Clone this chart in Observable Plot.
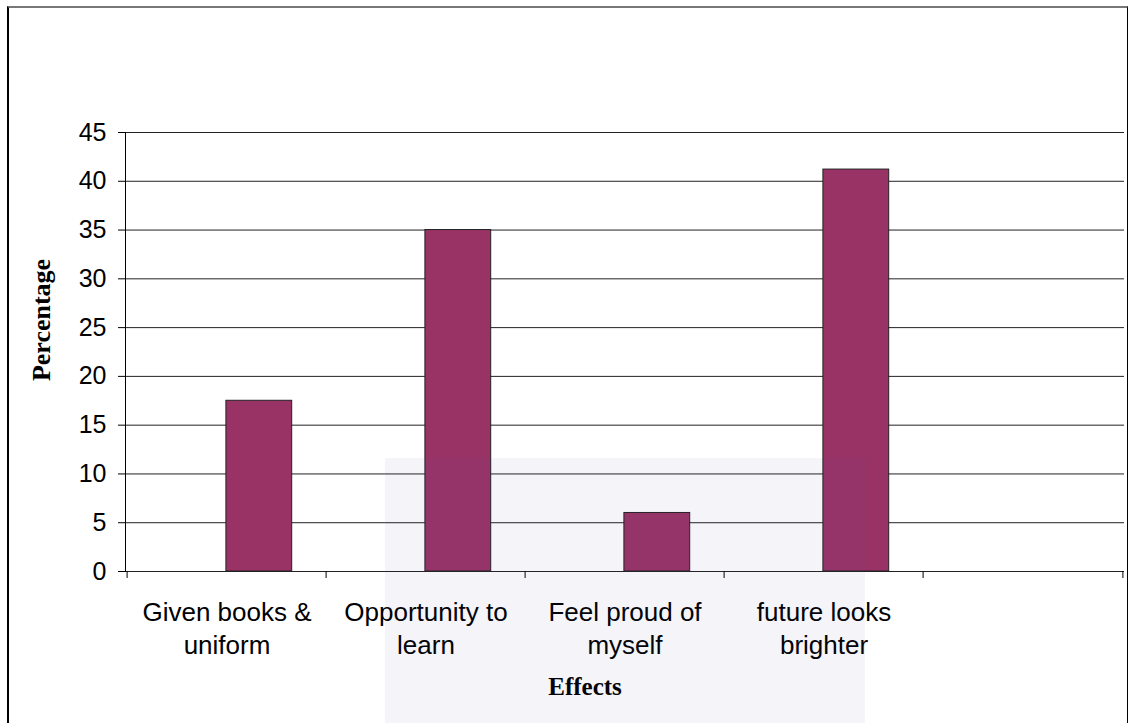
<!DOCTYPE html>
<html>
<head>
<meta charset="utf-8">
<script src="https://cdn.jsdelivr.net/npm/d3@7"></script>
<script src="https://cdn.jsdelivr.net/npm/@observablehq/plot@0.6"></script>
<style>
  html, body { margin: 0; padding: 0; background: #fff; }
  #wrap { position: relative; width: 1129px; height: 723px; overflow: hidden; }
  #border { position: absolute; left: 7px; top: 6px; width: 1118px; height: 730px;
            border-left: 2px solid #000; border-top: 2px solid #777; border-right: 1px solid #000; pointer-events: none; }
  #wm { position: absolute; left: 385px; top: 458px; width: 480px; height: 265px;
        background: rgba(70, 70, 150, 0.06); pointer-events: none; }
  #chart { position: absolute; left: 0; top: 0; }
</style>
</head>
<body>
<div id="wrap">
  <div id="chart"></div>
  <div id="wm"></div>
  <div id="border"></div>
</div>
<script>
const categories = ["Given books &\nuniform", "Opportunity to\nlearn", "Feel proud of\nmyself", "future looks\nbrighter", " "];
const values = [17.5, 35.0, 6.0, 41.2];
const yTicks = [0, 5, 10, 15, 20, 25, 30, 35, 40, 45];
const xLabel = "Effects";
const yLabel = "Percentage";

const data = values.map((v, i) => ({effect: categories[i], value: v}));

const W = 1129, H = 723, mL = 125, mR = 5, mT = 132, mB = 152;
const bw = (W - mL - mR) / categories.length;

const chart = Plot.plot({
  width: W, height: H,
  marginLeft: mL, marginRight: mR, marginTop: mT, marginBottom: mB,
  style: {fontFamily: "'Liberation Sans', Arial, sans-serif", fontSize: "25px", color: "#000", background: "transparent"},
  x: {type: "band", domain: categories, padding: 0},
  y: {domain: [0, 45]},
  marks: [
    Plot.ruleY(yTicks, {stroke: "#222", strokeWidth: 1}),
    Plot.barY(data, {x: "effect", y: "value", fill: "#993366", stroke: "#222", strokeWidth: 1,
                     insetLeft: bw / 2 - 1, insetRight: bw / 6 + 1}),
    Plot.frame({anchor: "left", stroke: "#000"}),
    Plot.axisY({ticks: yTicks, tickSize: 7, tickPadding: 12, label: null, fontSize: 25, stroke: "#000"}),
    Plot.axisX({tickSize: 7, text: null, dx: -bw / 2, label: null, stroke: "#000"}),
    Plot.axisX({ticks: [categories[4]], tickSize: 7, text: null, dx: bw / 2, label: null, stroke: "#000"}),
    Plot.axisX({tickSize: 0, tickPadding: 25, label: null, fontSize: 26, lineHeight: 1.3}),
    Plot.text([xLabel], {frameAnchor: "bottom", dx: -40, dy: 123, fontFamily: "'Liberation Serif', 'Times New Roman', serif",
                         fontWeight: "bold", fontSize: 25, fill: "#000"}),
    Plot.text([yLabel], {frameAnchor: "left", textAnchor: "middle", rotate: -90, dx: -84, dy: -32, fontFamily: "'Liberation Serif', 'Times New Roman', serif",
                         fontWeight: "bold", fontSize: 26, fill: "#000"})
  ]
});
document.getElementById("chart").appendChild(chart);
</script>
</body>
</html>
